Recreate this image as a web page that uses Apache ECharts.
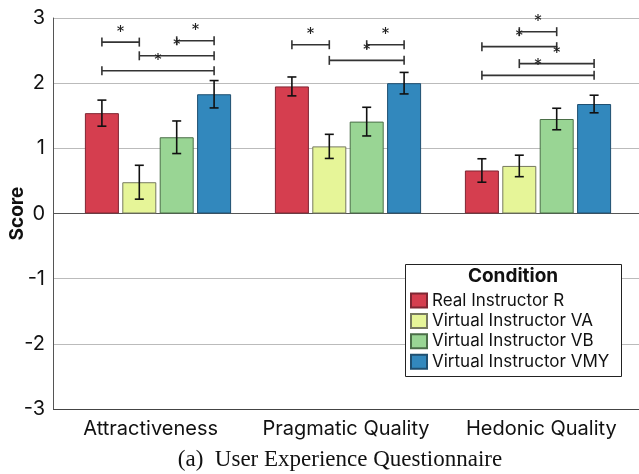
<!DOCTYPE html>
<html>
<head>
<meta charset="utf-8">
<script src="https://cdn.jsdelivr.net/npm/echarts@6/dist/echarts.min.js"></script>
<style>html,body{margin:0;padding:0;background:#fff}#c{width:639px;height:474px}</style>
</head>
<body>
<div id="c"></div>
<script>
// ---- data ----
const categories = ['Attractiveness', 'Pragmatic Quality', 'Hedonic Quality'];
const seriesNames = ['Real Instructor R', 'Virtual Instructor VA', 'Virtual Instructor VB', 'Virtual Instructor VMY'];
const meanR   = [1.54, 1.95, 0.66];
const meanVA  = [0.48, 1.03, 0.73];
const meanVB  = [1.17, 1.41, 1.45];
const meanVMY = [1.83, 2.00, 1.68];
const errR    = [0.20, 0.145, 0.18];
const errVA   = [0.26, 0.185, 0.165];
const errVB   = [0.25, 0.22, 0.165];
const errVMY  = [0.21, 0.165, 0.135];
// significance brackets: [category index, condition A index, condition B index, bracket height]
const sigBrackets = [
  [0, 0, 1, 2.63], [0, 2, 3, 2.65], [0, 1, 3, 2.42], [0, 0, 3, 2.19],
  [1, 0, 1, 2.59], [1, 2, 3, 2.59], [1, 1, 3, 2.35],
  [2, 1, 2, 2.79], [2, 0, 2, 2.56], [2, 1, 3, 2.30], [2, 0, 3, 2.12]
];
const yTicks = [-3, -2, -1, 0, 1, 2, 3];

// ---- styles ----
const fills = ['#d53e4f', '#e6f598', '#99d594', '#3288bd'];
const borders = ['#7f2633', '#777a60', '#4b6e48', '#1f4f70'];
const BAR_W = 34, BAR_GAP = 3.4;
const means = [meanR, meanVA, meanVB, meanVMY];
const errs = [errR, errVA, errVB, errVMY];

const errData = [];
means.forEach((m, s) => m.forEach((v, c) => errData.push([c, s, v, errs[s][c]])));

function offsetOf(s) { return (s - 1.5) * (BAR_W + BAR_GAP); }

const chart = echarts.init(document.getElementById('c'), null, {renderer: 'canvas'});
const FONT = 'Inter, "Open Sans", Roboto, sans-serif';

const barSeries = seriesNames.map((n, s) => ({
  name: n, type: 'bar', xAxisIndex: 1, yAxisIndex: 1,
  data: means[s], barWidth: BAR_W, barGap: (BAR_GAP / BAR_W * 100) + '%',
  itemStyle: {color: fills[s], borderColor: borders[s], borderWidth: 1},
  z: 3
}));

chart.setOption({
  animation: false,
  textStyle: {fontFamily: FONT},
  grid: [
    {left: 53, right: 0, top: 18, bottom: 65, containLabel: false, outerBoundsMode: 'none'},
    {left: 63, right: 6, top: 18, bottom: 65, containLabel: false, outerBoundsMode: 'none'}
  ],
  xAxis: [
    {gridIndex: 0, type: 'category', data: categories, position: 'bottom',
     axisLine: {show: false, onZero: false}, axisTick: {show: false}, splitLine: {show: false},
     axisLabel: {fontSize: 20, color: '#111', margin: 10, interval: 0, fontFamily: FONT}},
    {gridIndex: 1, type: 'category', data: categories, show: false}
  ],
  yAxis: [
    {gridIndex: 0, type: 'value', min: -3, max: 3, interval: 1,
     name: 'Score', nameLocation: 'middle', nameGap: 26, nameMoveOverlap: false,
     nameTextStyle: {fontSize: 19, fontWeight: 'bold', color: '#111', fontFamily: FONT},
     axisLine: {show: true, onZero: false, lineStyle: {color: '#555', width: 1}},
     axisTick: {show: false},
     axisLabel: {fontSize: 20, color: '#111', margin: 8, fontFamily: FONT,
                 formatter: v => yTicks.includes(v) ? String(v) : ''},
     splitLine: {show: true, lineStyle: {color: ['#444', '#bbb', '#bbb', '#555', '#bbb', '#bbb', '#bbb'], width: 1.2}}},
    {gridIndex: 1, type: 'value', min: -3, max: 3, interval: 1, show: false}
  ],
  legend: {
    data: seriesNames, orient: 'vertical', left: 410, top: 292, padding: 0,
    itemWidth: 16, itemHeight: 14, itemGap: 3.4,
    textStyle: {fontSize: 17, color: '#111', fontFamily: FONT},
    icon: 'rect'
  },
  graphic: [
    {type: 'rect', shape: {x: 405.5, y: 264.5, width: 216, height: 112},
     style: {fill: '#fff', stroke: '#222', lineWidth: 1}, z: 1},
    {type: 'text', x: 513, y: 276, z: 2,
     style: {text: 'Condition', font: 'bold 19px ' + FONT, fill: '#111', textAlign: 'center', textVerticalAlign: 'middle'}},
    {type: 'text', x: 340, y: 460,
     style: {text: '(a)  User Experience Questionnaire', font: '23px "Liberation Serif", "Times New Roman", serif', fill: '#111', textAlign: 'center', textVerticalAlign: 'middle'}}
  ],
  series: barSeries.concat([
    {
      type: 'custom', xAxisIndex: 1, yAxisIndex: 1, data: errData, z: 5, clip: false,
      encode: {x: 0, y: 2},
      renderItem: (params, api) => {
        const c = api.value(0), s = api.value(1), m = api.value(2), e = api.value(3);
        const cx = api.coord([c, 0])[0] + offsetOf(s);
        const yt = api.coord([c, m + e])[1], yb = api.coord([c, m - e])[1];
        const st = {stroke: '#111', lineWidth: 1.6};
        const cw = 4.5;
        return {type: 'group', children: [
          {type: 'line', shape: {x1: cx, y1: yt, x2: cx, y2: yb}, style: st},
          {type: 'line', shape: {x1: cx - cw, y1: yt, x2: cx + cw, y2: yt}, style: st},
          {type: 'line', shape: {x1: cx - cw, y1: yb, x2: cx + cw, y2: yb}, style: st}
        ]};
      }
    },
    {
      type: 'custom', xAxisIndex: 1, yAxisIndex: 1, data: sigBrackets, z: 5, clip: false,
      encode: {x: 0, y: 3},
      renderItem: (params, api) => {
        const c = api.value(0), a = api.value(1), b = api.value(2), h = api.value(3);
        const base = api.coord([c, h]);
        const x1 = base[0] + offsetOf(a), x2 = base[0] + offsetOf(b), y = base[1];
        const st = {stroke: '#333', lineWidth: 1.6};
        return {type: 'group', children: [
          {type: 'line', shape: {x1: x1, y1: y, x2: x2, y2: y}, style: st},
          {type: 'line', shape: {x1: x1, y1: y - 4.5, x2: x1, y2: y + 4.5}, style: st},
          {type: 'line', shape: {x1: x2, y1: y - 4.5, x2: x2, y2: y + 4.5}, style: st},
          {type: 'text', x: (x1 + x2) / 2, y: y - 1,
           style: {text: '*', font: '17px ' + FONT, fill: '#222', textAlign: 'center', textVerticalAlign: 'bottom'}}
        ]};
      }
    }
  ])
});
</script>
</body>
</html>
